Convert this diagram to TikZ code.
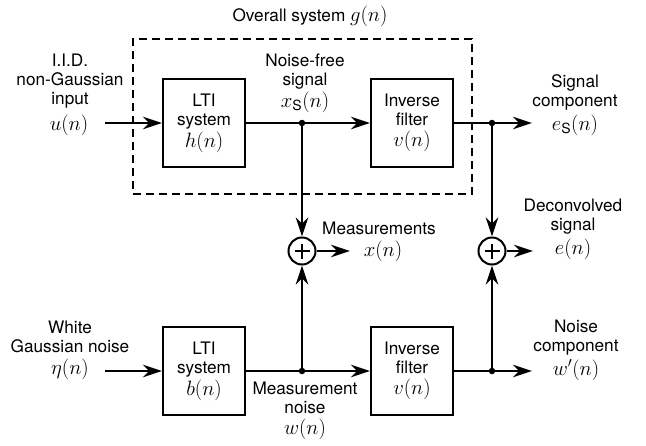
\documentclass[tikz,border=0pt]{standalone}
\usepackage{fontspec}
\setmainfont{TeX Gyre Heros}
\DeclareMathSizes{17.2}{19.5}{14}{11}
\usetikzlibrary{arrows.meta}
\begin{document}
\begin{tikzpicture}[x=1pt,y=-1pt, font=\fontsize{17.2}{19}\selectfont,
  blk/.style={draw, line width=2pt, minimum width=82pt, minimum height=88pt, align=center, inner sep=0pt},
  sig/.style={line width=2pt},
  arr/.style={sig, -{Stealth[length=19pt,width=12.5pt,inset=6pt]}},
  dotn/.style={circle, fill, inner sep=0pt, minimum size=6.5pt},
  sumn/.style={circle, draw, line width=2pt, minimum size=27pt, inner sep=0pt,
    path picture={\draw[line width=1.6pt] (path picture bounding box.center) ++(-7.5pt,0) -- ++(15pt,0);
                  \draw[line width=1.6pt] (path picture bounding box.center) ++(0,-7.5pt) -- ++(0,15pt);}},
  lbl/.style={align=center, inner sep=0pt},
  dbox/.style={draw, line width=1.4pt, dash pattern=on 8pt off 5pt, minimum width=339pt, minimum height=155pt, inner sep=0pt}]
\useasboundingbox (0,0) rectangle (646,445);

\node[dbox] (g) at (302.5,116.5) {};

\node[blk] (h) at (204,123) {LTI\\system\\[2pt]$h(n)$};
\node[blk] (v1) at (412,123) {Inverse\\filter\\[2pt]$v(n)$};
\node[blk] (b) at (204,371) {LTI\\system\\[2pt]$b(n)$};
\node[blk] (v2) at (412,371) {Inverse\\filter\\[2pt]$v(n)$};
\node[sumn] (s1) at (302,251) {};
\node[sumn] (s2) at (492,251) {};
\node[dotn] (j1) at (302,123) {};
\node[dotn] (j2) at (492,123) {};
\node[dotn] (j3) at (302,371) {};
\node[dotn] (j4) at (492,371) {};
\coordinate (uin) at (105,123);
\coordinate (etain) at (105,371);
\coordinate (esout) at (532,123);
\coordinate (wout) at (532,371);
\coordinate (xout) at (350,251);
\coordinate (eout) at (533,251);

\draw[arr, line width=2.8pt] (uin) -- (h.west);
\draw[arr] (h.east) -- (v1.west);
\draw[arr] (j1) -- (s1.north);
\draw[arr] (v1.east) -- (esout);
\draw[arr] (j2) -- (s2.north);
\draw[arr, line width=2.8pt] (etain) -- (b.west);
\draw[arr] (b.east) -- (v2.west);
\draw[arr] (j3) -- (s1.south);
\draw[arr] (v2.east) -- (wout);
\draw[arr] (j4) -- (s2.south);
\draw[arr] (s1.east) -- (xout);
\draw[arr] (s2.east) -- (eout);

\node[lbl] (ttl) at (310,16) {Overall system $g(n)$};
\node[lbl] (iid) at (70,81) {I.I.D.\\non-Gaussian\\input};
\node[lbl] (u) at (69,125) {$u(n)$};
\node[lbl] (nf) at (305,83) {Noise-free\\signal\\[2pt]$x_{\mathrm{S}}(n)$};
\node[lbl] (sc) at (575,105) {Signal\\component\\[4pt]$e_{\mathrm{S}}(n)$};
\node[lbl] (dc) at (573,229) {Deconvolved\\signal\\[4pt]$e(n)$};
\node[lbl] (ms) at (379,228) {Measurements};
\node[lbl] (xn) at (383,251) {$x(n)$};
\node[lbl] (wg) at (70,350) {White\\Gaussian noise\\[3pt]$\eta(n)$};
\node[lbl] (mn) at (305,411) {Measurement\\noise\\[2pt]$w(n)$};
\node[lbl] (nc) at (576,350) {Noise\\component\\[4pt]$w'(n)$};
\end{tikzpicture}
\end{document}
